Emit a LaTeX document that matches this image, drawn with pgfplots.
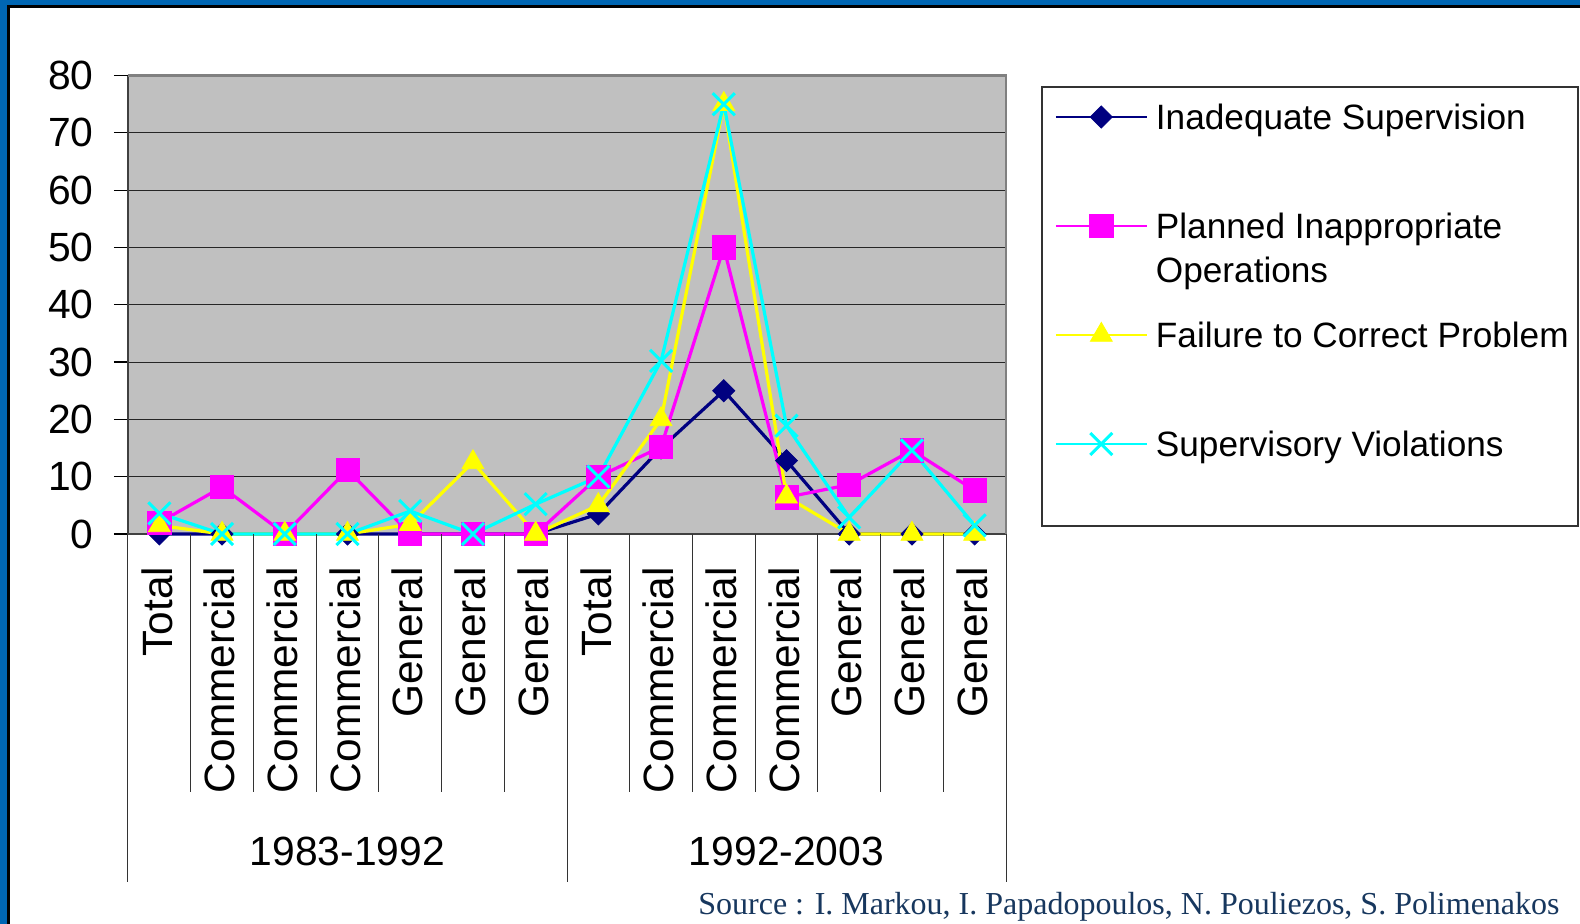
\documentclass[border=0pt]{standalone}
\usepackage{pgfplots}
\pgfplotsset{compat=1.18}
\usepackage{fontspec}
\setmainfont{Liberation Sans}
\newfontfamily\timesfont{Liberation Serif}
\definecolor{frameblue}{RGB}{0,102,179}
\definecolor{srcblue}{RGB}{23,55,94}
\definecolor{plotgray}{RGB}{192,192,192}
\definecolor{sNavy}{RGB}{0,0,128}
\definecolor{sMag}{RGB}{255,0,255}
\definecolor{sYel}{RGB}{255,255,0}
\definecolor{sCyan}{RGB}{0,255,255}
\begin{document}
\begin{tikzpicture}
\path[use as bounding box, fill=white] (0pt,0pt) rectangle (790pt,462pt);
\begin{axis}[
  at={(64pt,195pt)}, anchor=south west,
  scale only axis, width=439pt, height=229.2pt,
  xmin=0.5, xmax=14.5, ymin=0, ymax=80,
  axis background/.style={fill=plotgray},
  axis x line*=bottom, axis y line*=left,
  axis line style={black!75, line width=1pt},
  ytick={0,10,...,80},
  xtick={1,...,14},
  xticklabels={Total,Commercial,Commercial,Commercial,General,General,General,Total,Commercial,Commercial,Commercial,General,General,General},
  x tick style={draw=none},
  y tick style={black, line width=0.6pt},
  tick align=outside,
  major tick length=7pt,
  ymajorgrids,
  major grid style={black!85, line width=0.5pt},
  yticklabel style={font=\fontsize{20.4}{24}\selectfont},
  /pgf/number format/assume math mode=true,
  xticklabel style={font=\fontsize{21.2}{25}\selectfont, yshift=-9.3pt, xshift=-1.2pt, rotate=90, anchor=east, inner sep=0pt},
  yticklabel style={anchor=east, inner sep=0pt, xshift=-10pt},
  clip=false,
  legend style={
    draw=none, fill=none,
    at={(1.0555,0.9374)}, anchor=north west,
    inner sep=0pt, outer sep=0pt,
    row sep=41.8pt, column sep=4pt,
    font=\fontsize{17.6}{22}\selectfont,
    nodes={inner sep=0pt, text height=12.7pt, text depth=0pt, anchor=west},
  },
  legend cell align=left,
  legend image code/.code={
    \draw[mark repeat=2, mark phase=2, #1] plot coordinates {(0pt,0pt) (22.75pt,0pt) (45.5pt,0pt)};
  },
  legend image post style={line width=1.1pt},
]
\addplot[sNavy, line width=1.6pt, mark=square*, mark size=3.9pt,
  mark options={rotate=45, fill=sNavy, draw=sNavy, line width=0.4pt}]
  coordinates {(1,0) (2,0) (3,0) (4,0) (5,0) (6,0) (7,0) (8,3.5) (9,15) (10,25) (11,12.8) (12,0) (13,0) (14,0)};
\addlegendentry{Inadequate Supervision}
\addplot[sMag, line width=1.6pt, mark=square*, mark size=5.8pt,
  mark options={fill=sMag, draw=sMag, line width=0.4pt}]
  coordinates {(1,2) (2,8.2) (3,0) (4,11.2) (5,0) (6,0) (7,0) (8,10) (9,15.2) (10,50) (11,6.4) (12,8.6) (13,14.6) (14,7.6)};
\addlegendentry{\begin{tabular}[t]{@{}l@{}}Planned Inappropriate\\Operations\end{tabular}}
\addplot[sYel, line width=1.6pt, mark=triangle*, mark size=6.3pt,
  mark options={fill=sYel, draw=sYel, line width=0.4pt}]
  coordinates {(1,1.5) (2,0) (3,0) (4,0) (5,1.7) (6,12.5) (7,0) (8,5) (9,20) (10,75) (11,6.5) (12,0) (13,0) (14,0)};
\addlegendentry{Failure to Correct Problem}
\addplot[sCyan, line width=1.6pt, mark=x, mark size=7.8pt,
  mark options={draw=sCyan, line width=1.5pt}]
  coordinates {(1,3.6) (2,0) (3,0) (4,0) (5,4) (6,0) (7,5.2) (8,10) (9,30.2) (10,75) (11,18.9) (12,2.9) (13,14.6) (14,1.5)};
\addlegendentry{Supervisory Violations}
% top and right border of the plot area
\draw[black!50, line width=1.2pt] (rel axis cs:0,1) -- (rel axis cs:1,1) -- (rel axis cs:1,0);
% category separators
\draw[black!80, line width=0.5pt] (axis cs:0.5,0) -- ++(0pt,-174pt);
\draw[black!80, line width=0.5pt] (axis cs:7.5,0) -- ++(0pt,-174pt);
\draw[black!80, line width=0.5pt] (axis cs:14.5,0) -- ++(0pt,-174pt);
\draw[black!80, line width=0.5pt] (axis cs:1.5,0) -- ++(0pt,-129pt);
\draw[black!80, line width=0.5pt] (axis cs:2.5,0) -- ++(0pt,-129pt);
\draw[black!80, line width=0.5pt] (axis cs:3.5,0) -- ++(0pt,-129pt);
\draw[black!80, line width=0.5pt] (axis cs:4.5,0) -- ++(0pt,-129pt);
\draw[black!80, line width=0.5pt] (axis cs:5.5,0) -- ++(0pt,-129pt);
\draw[black!80, line width=0.5pt] (axis cs:6.5,0) -- ++(0pt,-129pt);
\draw[black!80, line width=0.5pt] (axis cs:8.5,0) -- ++(0pt,-129pt);
\draw[black!80, line width=0.5pt] (axis cs:9.5,0) -- ++(0pt,-129pt);
\draw[black!80, line width=0.5pt] (axis cs:10.5,0) -- ++(0pt,-129pt);
\draw[black!80, line width=0.5pt] (axis cs:11.5,0) -- ++(0pt,-129pt);
\draw[black!80, line width=0.5pt] (axis cs:12.5,0) -- ++(0pt,-129pt);
\draw[black!80, line width=0.5pt] (axis cs:13.5,0) -- ++(0pt,-129pt);
\node[font=\fontsize{20.4}{24}\selectfont, yshift=-158.5pt] at (axis cs:4,0) {1983-1992};
\node[font=\fontsize{20.4}{24}\selectfont, yshift=-158.5pt] at (axis cs:11,0) {1992-2003};
\end{axis}
% legend frame
\draw[black!80, line width=0.6pt] (521pt,418.5pt) rectangle (789pt,199pt);
% blue frame
\fill[frameblue] (0pt,0pt) rectangle (3.5pt,462pt);
\fill[frameblue] (0pt,459.5pt) rectangle (790pt,462pt);
\fill[black] (3.5pt,0pt) rectangle (5pt,458pt);
\fill[black] (3.5pt,458pt) rectangle (790pt,459.5pt);
% source
\node[anchor=base east, font=\timesfont\fontsize{16}{19}\selectfont, text=srcblue, inner sep=0pt] at (780pt,4.5pt) {Source : I. Markou, I. Papadopoulos, N. Pouliezos, S. Polimenakos};
\end{tikzpicture}
\end{document}
